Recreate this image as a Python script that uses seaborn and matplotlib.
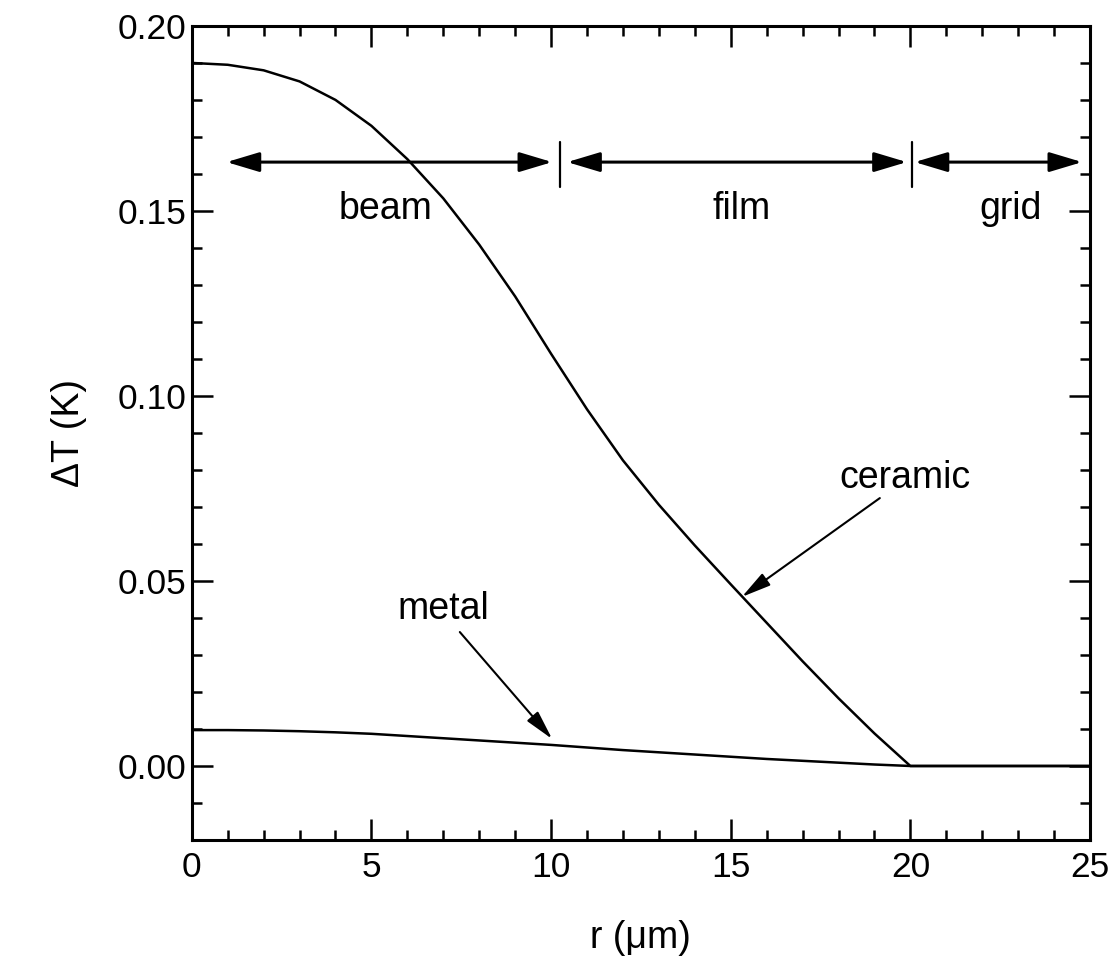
import matplotlib
matplotlib.use("Agg")
import matplotlib.pyplot as plt
import seaborn as sns
import pandas as pd

# radius (um) and temperature rise (K)
r_um = [0, 1, 2, 3, 4, 5, 6, 7, 8, 9, 10, 11, 12, 13, 14, 15, 16, 17, 18, 19, 20,
        21, 22, 23, 24, 25]
dT_ceramic = [0.190, 0.1895, 0.188, 0.185, 0.180, 0.173, 0.164, 0.1534, 0.1409, 0.1269,
              0.1114, 0.0964, 0.0826, 0.0706, 0.0596, 0.0491, 0.0387, 0.0283, 0.0183,
              0.0088, 0.0, 0.0, 0.0, 0.0, 0.0, 0.0]
dT_metal = [0.0097, 0.0097, 0.0096, 0.0094, 0.0091, 0.0087, 0.0081, 0.0075, 0.0069,
            0.0063, 0.0057, 0.0050, 0.0043, 0.0037, 0.0031, 0.0025, 0.0019, 0.0014,
            0.0009, 0.0004, 0.0, 0.0, 0.0, 0.0, 0.0, 0.0]

# region arrows along the top: beam / film / grid
region_names = ["beam", "film", "grid"]
region_start = [0.97, 10.45, 20.12]
region_end = [10.03, 19.9, 24.78]
region_label_x = [5.4, 15.3, 22.8]
region_bounds = [10.25, 20.05]
arrow_y = 0.1632

df = pd.DataFrame({"r": r_um * 2,
                   "dT": dT_ceramic + dT_metal,
                   "material": ["ceramic"] * len(r_um) + ["metal"] * len(r_um)})

sns.set_theme(style="ticks")
plt.rcParams["font.family"] = ["Liberation Sans", "DejaVu Sans"]
plt.rcParams["text.color"] = "black"
plt.rcParams["axes.labelcolor"] = "black"
plt.rcParams["xtick.labelcolor"] = "black"
plt.rcParams["ytick.labelcolor"] = "black"

fig = plt.figure(figsize=(11.15, 9.6), dpi=100)
ax = fig.add_axes([0.172, 0.125, 0.8056, 0.848])

sns.lineplot(data=df, x="r", y="dT", units="material", estimator=None,
             color="black", lw=1.8, ax=ax, legend=False)

ax.set_xlim(0, 25)
ax.set_ylim(-0.02, 0.20)
ax.set_xticks([0, 5, 10, 15, 20, 25])
ax.set_xticks(range(0, 26), minor=True)
ax.set_yticks([0.0, 0.05, 0.10, 0.15, 0.20])
ax.set_yticks([i / 100 for i in range(-2, 21)], minor=True)
ax.set_yticklabels(["0.00", "0.05", "0.10", "0.15", "0.20"])
ax.tick_params(which="both", direction="in", top=True, right=True, width=1.8,
               labelsize=25.5, color="black")
ax.tick_params(which="major", length=15)
ax.tick_params(which="minor", length=7.5)
ax.tick_params(axis="x", pad=8)
ax.tick_params(axis="y", pad=4)
for s in ax.spines.values():
    s.set_linewidth(2.2)
    s.set_color("black")

ax.set_xlabel("r (\u03bcm)", fontsize=27, labelpad=26)
ax.set_ylabel("\u0394T (K)", fontsize=27, labelpad=22)

# region arrows
for name, x0, x1, xl in zip(region_names, region_start, region_end, region_label_x):
    ax.annotate("", xy=(x1, arrow_y), xytext=(x0, arrow_y),
                arrowprops=dict(arrowstyle="<|-|>,head_length=1.0,head_width=0.3",
                                mutation_scale=20, lw=2.2, color="black",
                                shrinkA=0, shrinkB=0))
    ax.text(xl, 0.1478, name, fontsize=27, ha="center", va="baseline")
for xb in region_bounds:
    ax.plot([xb, xb], [0.1565, 0.1685], color="black", lw=1.6)

# curve labels
ax.text(19.85, 0.0778, "ceramic", fontsize=27, ha="center", va="center")
ax.annotate("", xy=(15.31, 0.0457), xytext=(19.15, 0.0724),
            arrowprops=dict(arrowstyle="-|>,head_length=0.9,head_width=0.22",
                            mutation_scale=20, lw=1.5, color="black",
                            shrinkA=0, shrinkB=0))
ax.text(7.0, 0.0425, "metal", fontsize=27, ha="center", va="center")
ax.annotate("", xy=(10.03, 0.0073), xytext=(7.46, 0.0362),
            arrowprops=dict(arrowstyle="-|>,head_length=0.9,head_width=0.22",
                            mutation_scale=20, lw=1.5, color="black",
                            shrinkA=0, shrinkB=0))

fig.savefig("out.png", dpi=100, facecolor="white")
